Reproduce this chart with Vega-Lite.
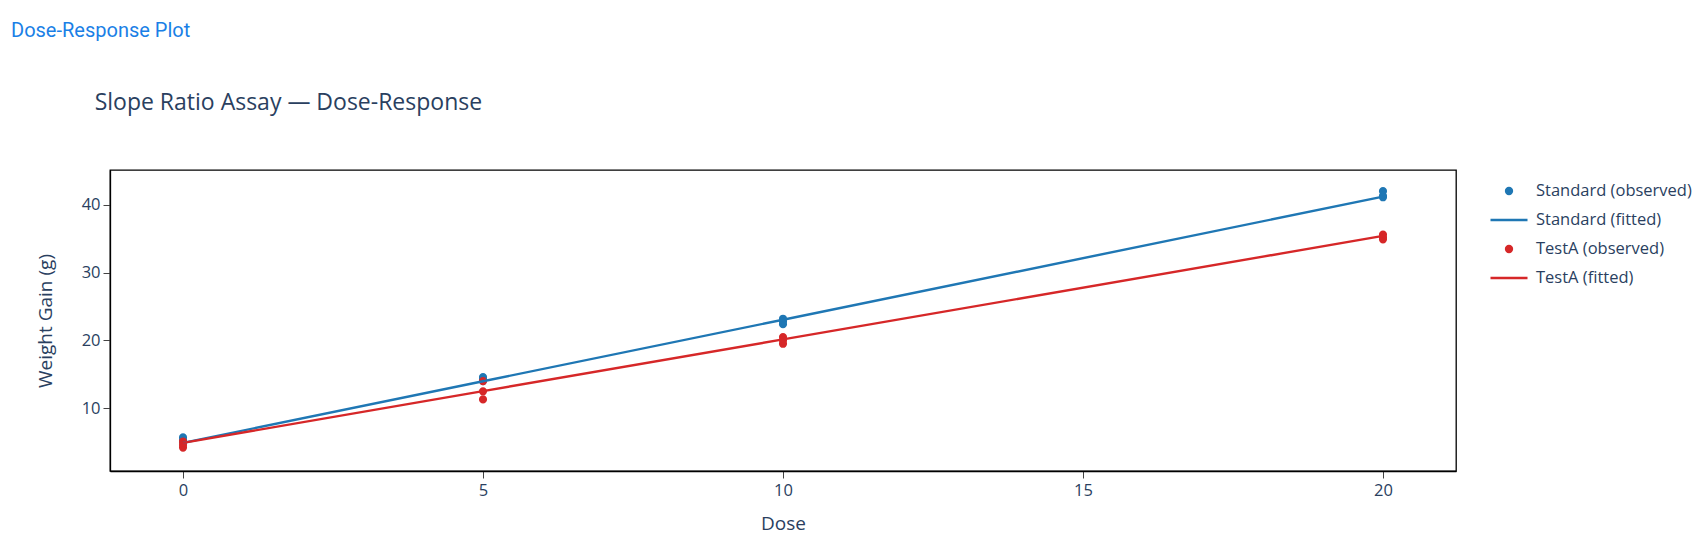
{
  "$schema": "https://vega.github.io/schema/vega-lite/v6.json",
  "width": 1346,
  "height": 301,
  "autosize": {"type": "none"},
  "padding": {"left": 110, "top": 170, "right": 241, "bottom": 69},
  "background": "white",
  "title": {
    "text": "Dose-Response Plot",
    "subtitle": "\u200b\u00a0\u00a0\u00a0\u00a0\u00a0\u00a0\u00a0\u00a0\u00a0\u00a0\u00a0\u00a0\u00a0\u00a0Slope Ratio Assay — Dose-Response",
    "anchor": "start",
    "frame": "group",
    "dx": -99,
    "offset": 55,
    "baseline": "top",
    "font": "Roboto",
    "fontSize": 20,
    "fontWeight": "normal",
    "color": "#1a7fe6",
    "subtitleFont": "Open Sans",
    "subtitleFontSize": 23,
    "subtitleColor": "#2a3f5f",
    "subtitlePadding": 51
  },
  "config": {
    "view": {"stroke": "black", "strokeWidth": 1.3},
    "axis": {
      "grid": false,
      "domainColor": "black",
      "domainWidth": 1.3,
      "tickColor": "#444",
      "tickSize": 7,
      "labelFont": "Open Sans",
      "labelFontSize": 16.5,
      "labelColor": "#2a3f5f",
      "titleFont": "Open Sans",
      "titleFontSize": 19,
      "titleFontWeight": "normal",
      "titleColor": "#2a3f5f"
    },
    "legend": {
      "orient": "none",
      "legendX": 1379,
      "legendY": 1,
      "padding": 0,
      "labelFont": "Open Sans",
      "labelFontSize": 16.5,
      "labelColor": "#2a3f5f",
      "labelOffset": 7,
      "rowPadding": -4,
      "symbolSize": 1369,
      "symbolStrokeWidth": 2.6,
      "symbolOpacity": 1
    }
  },
  "data": {
    "values": [
      {"dose": 0, "gain": 5.7, "series": "Standard (observed)", "kind": "observed"},
      {"dose": 0, "gain": 5.3, "series": "Standard (observed)", "kind": "observed"},
      {"dose": 0, "gain": 5.0, "series": "Standard (observed)", "kind": "observed"},
      {"dose": 5, "gain": 14.6, "series": "Standard (observed)", "kind": "observed"},
      {"dose": 5, "gain": 14.3, "series": "Standard (observed)", "kind": "observed"},
      {"dose": 5, "gain": 14.0, "series": "Standard (observed)", "kind": "observed"},
      {"dose": 10, "gain": 23.2, "series": "Standard (observed)", "kind": "observed"},
      {"dose": 10, "gain": 22.8, "series": "Standard (observed)", "kind": "observed"},
      {"dose": 10, "gain": 22.4, "series": "Standard (observed)", "kind": "observed"},
      {"dose": 20, "gain": 42.0, "series": "Standard (observed)", "kind": "observed"},
      {"dose": 20, "gain": 41.3, "series": "Standard (observed)", "kind": "observed"},
      {"dose": 20, "gain": 41.1, "series": "Standard (observed)", "kind": "observed"},
      {"dose": 0, "gain": 4.9, "series": "Standard (fitted)", "kind": "fitted"},
      {"dose": 5, "gain": 13.98, "series": "Standard (fitted)", "kind": "fitted"},
      {"dose": 10, "gain": 23.05, "series": "Standard (fitted)", "kind": "fitted"},
      {"dose": 20, "gain": 41.2, "series": "Standard (fitted)", "kind": "fitted"},
      {"dose": 0, "gain": 5.1, "series": "TestA (observed)", "kind": "observed"},
      {"dose": 0, "gain": 4.6, "series": "TestA (observed)", "kind": "observed"},
      {"dose": 0, "gain": 4.2, "series": "TestA (observed)", "kind": "observed"},
      {"dose": 5, "gain": 14.0, "series": "TestA (observed)", "kind": "observed"},
      {"dose": 5, "gain": 12.5, "series": "TestA (observed)", "kind": "observed"},
      {"dose": 5, "gain": 11.3, "series": "TestA (observed)", "kind": "observed"},
      {"dose": 10, "gain": 20.5, "series": "TestA (observed)", "kind": "observed"},
      {"dose": 10, "gain": 20.0, "series": "TestA (observed)", "kind": "observed"},
      {"dose": 10, "gain": 19.5, "series": "TestA (observed)", "kind": "observed"},
      {"dose": 20, "gain": 35.6, "series": "TestA (observed)", "kind": "observed"},
      {"dose": 20, "gain": 35.2, "series": "TestA (observed)", "kind": "observed"},
      {"dose": 20, "gain": 34.9, "series": "TestA (observed)", "kind": "observed"},
      {"dose": 0, "gain": 4.9, "series": "TestA (fitted)", "kind": "fitted"},
      {"dose": 5, "gain": 12.53, "series": "TestA (fitted)", "kind": "fitted"},
      {"dose": 10, "gain": 20.15, "series": "TestA (fitted)", "kind": "fitted"},
      {"dose": 20, "gain": 35.4, "series": "TestA (fitted)", "kind": "fitted"}
    ]
  },
  "encoding": {
    "x": {
      "field": "dose",
      "type": "quantitative",
      "scale": {"domain": [-1.217, 21.217], "nice": false, "zero": false},
      "axis": {"title": "Dose", "values": [0, 5, 10, 15, 20], "labelPadding": 4, "titlePadding": 16}
    },
    "y": {
      "field": "gain",
      "type": "quantitative",
      "scale": {"domain": [0.75, 45.12], "nice": false, "zero": false},
      "axis": {"title": "Weight Gain (g)", "values": [10, 20, 30, 40], "labelPadding": 3, "titlePadding": 26}
    }
  },
  "layer": [
    {
      "transform": [{"filter": "datum.kind === 'observed'"}],
      "mark": {"type": "point", "filled": true, "opacity": 1, "size": 1369, "strokeWidth": 2.4},
      "encoding": {
        "color": {
          "field": "series",
          "type": "nominal",
          "title": null,
          "scale": {
            "domain": ["Standard (observed)", "Standard (fitted)", "TestA (observed)", "TestA (fitted)"],
            "range": ["#1f77b4", "#1f77b4", "#d62728", "#d62728"]
          }
        },
        "stroke": {
          "field": "series",
          "type": "nominal",
          "title": null,
          "scale": {
            "domain": ["Standard (observed)", "Standard (fitted)", "TestA (observed)", "TestA (fitted)"],
            "range": ["#1f77b4", "#1f77b4", "#d62728", "#d62728"]
          }
        },
        "shape": {
          "field": "series",
          "type": "nominal",
          "title": null,
          "scale": {
            "domain": ["Standard (observed)", "Standard (fitted)", "TestA (observed)", "TestA (fitted)"],
            "range": ["M-0.155,0A0.155,0.155,0,1,0,0.155,0A0.155,0.155,0,1,0,-0.155,0Z", "M-1,0L1,0", "M-0.155,0A0.155,0.155,0,1,0,0.155,0A0.155,0.155,0,1,0,-0.155,0Z", "M-1,0L1,0"]
          }
        }
      }
    },
    {
      "transform": [{"filter": "datum.kind === 'fitted'"}],
      "mark": {"type": "line", "strokeWidth": 2.4},
      "encoding": {
        "color": {"field": "series", "type": "nominal", "title": null},
        "order": {"field": "dose"}
      }
    }
  ]
}
